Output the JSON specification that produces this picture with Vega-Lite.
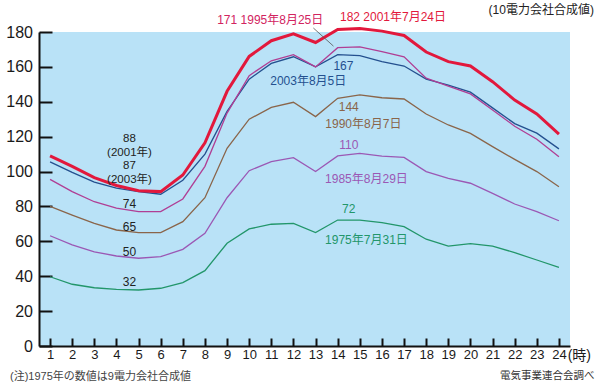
{
  "$schema": "https://vega.github.io/schema/vega-lite/v6.json",
  "autosize": "none",
  "width": 531,
  "height": 314,
  "padding": {"left": 39, "top": 32, "right": 30, "bottom": 42},
  "background": "white",
  "config": {
    "view": {"stroke": null, "fill": "#b9e2f7"},
    "font": "Liberation Sans, Noto Sans CJK JP",
    "axis": {"grid": false, "title": null, "domainColor": "#111", "domainWidth": 2, "tickColor": "#111", "tickWidth": 2, "labelColor": "#1a1a1a", "labelFont": "Liberation Sans"}
  },
  "datasets": {
    "lines": [
      {"s":"2001","h":1,"v":109},{"s":"2001","h":2,"v":103},{"s":"2001","h":3,"v":96.5},{"s":"2001","h":4,"v":92},{"s":"2001","h":5,"v":89},{"s":"2001","h":6,"v":88.5},{"s":"2001","h":7,"v":98},{"s":"2001","h":8,"v":116.5},{"s":"2001","h":9,"v":146},{"s":"2001","h":10,"v":166},{"s":"2001","h":11,"v":175},{"s":"2001","h":12,"v":179},{"s":"2001","h":13,"v":174},{"s":"2001","h":14,"v":181.5},{"s":"2001","h":15,"v":182},{"s":"2001","h":16,"v":180.5},{"s":"2001","h":17,"v":178},{"s":"2001","h":18,"v":168.5},{"s":"2001","h":19,"v":163},{"s":"2001","h":20,"v":160.5},{"s":"2001","h":21,"v":151.5},{"s":"2001","h":22,"v":141},{"s":"2001","h":23,"v":133},{"s":"2001","h":24,"v":121.5},
      {"s":"2003","h":1,"v":105.5},{"s":"2003","h":2,"v":99.5},{"s":"2003","h":3,"v":94},{"s":"2003","h":4,"v":90.5},{"s":"2003","h":5,"v":88.5},{"s":"2003","h":6,"v":87},{"s":"2003","h":7,"v":95},{"s":"2003","h":8,"v":110},{"s":"2003","h":9,"v":134.5},{"s":"2003","h":10,"v":153},{"s":"2003","h":11,"v":162},{"s":"2003","h":12,"v":165.8},{"s":"2003","h":13,"v":160},{"s":"2003","h":14,"v":167},{"s":"2003","h":15,"v":166.4},{"s":"2003","h":16,"v":163},{"s":"2003","h":17,"v":160.5},{"s":"2003","h":18,"v":153},{"s":"2003","h":19,"v":149.5},{"s":"2003","h":20,"v":145.5},{"s":"2003","h":21,"v":136.5},{"s":"2003","h":22,"v":127.5},{"s":"2003","h":23,"v":122},{"s":"2003","h":24,"v":113},
      {"s":"1995","h":1,"v":95.5},{"s":"1995","h":2,"v":88.5},{"s":"1995","h":3,"v":82.7},{"s":"1995","h":4,"v":79},{"s":"1995","h":5,"v":77},{"s":"1995","h":6,"v":77},{"s":"1995","h":7,"v":84.3},{"s":"1995","h":8,"v":103},{"s":"1995","h":9,"v":133.5},{"s":"1995","h":10,"v":155},{"s":"1995","h":11,"v":163.5},{"s":"1995","h":12,"v":167},{"s":"1995","h":13,"v":160},{"s":"1995","h":14,"v":171},{"s":"1995","h":15,"v":171.5},{"s":"1995","h":16,"v":168.7},{"s":"1995","h":17,"v":165.8},{"s":"1995","h":18,"v":153.5},{"s":"1995","h":19,"v":149},{"s":"1995","h":20,"v":144.5},{"s":"1995","h":21,"v":135.3},{"s":"1995","h":22,"v":126},{"s":"1995","h":23,"v":118.5},{"s":"1995","h":24,"v":108.5},
      {"s":"1990","h":1,"v":80},{"s":"1990","h":2,"v":75},{"s":"1990","h":3,"v":70.3},{"s":"1990","h":4,"v":66.5},{"s":"1990","h":5,"v":65},{"s":"1990","h":6,"v":65},{"s":"1990","h":7,"v":71.3},{"s":"1990","h":8,"v":85},{"s":"1990","h":9,"v":113.3},{"s":"1990","h":10,"v":130},{"s":"1990","h":11,"v":136.8},{"s":"1990","h":12,"v":139.7},{"s":"1990","h":13,"v":131.5},{"s":"1990","h":14,"v":142},{"s":"1990","h":15,"v":144},{"s":"1990","h":16,"v":142.3},{"s":"1990","h":17,"v":141.6},{"s":"1990","h":18,"v":133},{"s":"1990","h":19,"v":126.7},{"s":"1990","h":20,"v":121.9},{"s":"1990","h":21,"v":114.3},{"s":"1990","h":22,"v":107},{"s":"1990","h":23,"v":100},{"s":"1990","h":24,"v":91.3},
      {"s":"1985","h":1,"v":63.2},{"s":"1985","h":2,"v":58},{"s":"1985","h":3,"v":54},{"s":"1985","h":4,"v":51.6},{"s":"1985","h":5,"v":50.3},{"s":"1985","h":6,"v":51.2},{"s":"1985","h":7,"v":55.4},{"s":"1985","h":8,"v":64.6},{"s":"1985","h":9,"v":85},{"s":"1985","h":10,"v":100.5},{"s":"1985","h":11,"v":105.7},{"s":"1985","h":12,"v":108},{"s":"1985","h":13,"v":100},{"s":"1985","h":14,"v":109},{"s":"1985","h":15,"v":110.4},{"s":"1985","h":16,"v":108.9},{"s":"1985","h":17,"v":108.1},{"s":"1985","h":18,"v":100},{"s":"1985","h":19,"v":96.1},{"s":"1985","h":20,"v":93.3},{"s":"1985","h":21,"v":87.5},{"s":"1985","h":22,"v":81.4},{"s":"1985","h":23,"v":77},{"s":"1985","h":24,"v":71.8},
      {"s":"1975","h":1,"v":39.7},{"s":"1975","h":2,"v":35.4},{"s":"1975","h":3,"v":33.4},{"s":"1975","h":4,"v":32.5},{"s":"1975","h":5,"v":32.1},{"s":"1975","h":6,"v":33.1},{"s":"1975","h":7,"v":36.3},{"s":"1975","h":8,"v":43.2},{"s":"1975","h":9,"v":58.9},{"s":"1975","h":10,"v":67.1},{"s":"1975","h":11,"v":69.8},{"s":"1975","h":12,"v":70.3},{"s":"1975","h":13,"v":65},{"s":"1975","h":14,"v":72.2},{"s":"1975","h":15,"v":72.2},{"s":"1975","h":16,"v":70.7},{"s":"1975","h":17,"v":68.4},{"s":"1975","h":18,"v":61.2},{"s":"1975","h":19,"v":57.3},{"s":"1975","h":20,"v":58.7},{"s":"1975","h":21,"v":57.3},{"s":"1975","h":22,"v":53.5},{"s":"1975","h":23,"v":49.3},{"s":"1975","h":24,"v":45.1}
    ],
    "labels": [
      {"s":"1995label","h":10.95,"v":186.9,"t":"171 1995年8月25日"},
      {"s":"2001","h":16.5,"v":188.6,"t":"182 2001年7月24日"},
      {"s":"note","h":23.2,"v":192.6,"t":"(10電力会社合成値)"},
      {"s":"2003","h":14.26,"v":160.7,"t":"167"},
      {"s":"2003","h":12.67,"v":151.9,"t":"2003年8月5日"},
      {"s":"1990","h":14.5,"v":136.8,"t":"144"},
      {"s":"1990","h":15.16,"v":127.1,"t":"1990年8月7日"},
      {"s":"1985","h":14.5,"v":115.2,"t":"110"},
      {"s":"1985","h":15.3,"v":95.6,"t":"1985年8月29日"},
      {"s":"1975","h":14.5,"v":78.4,"t":"72"},
      {"s":"1975","h":15.3,"v":60.8,"t":"1975年7月31日"},
      {"s":"note","h":4.59,"v":81.2,"t":"74"},
      {"s":"note","h":4.59,"v":68.4,"t":"65"},
      {"s":"note","h":4.59,"v":54,"t":"50"},
      {"s":"note","h":4.59,"v":36.9,"t":"32"}
    ],
    "minLabels": [
      {"s":"note","h":4.59,"v":118.5,"t":"88"},
      {"s":"note","h":4.59,"v":110.9,"t":"(2001年)"},
      {"s":"note","h":4.59,"v":103.2,"t":"87"},
      {"s":"note","h":4.59,"v":95.4,"t":"(2003年)"}
    ],
    "foot": [
      {"s":"note","h":23.47,"v":-17.2,"t":"電気事業連合会調べ"}
    ],
    "footLeft": [
      {"s":"note","h":-0.81,"v":-17.8,"t":"(注)1975年の数値は9電力会社合成値"}
    ],
    "unit": [
      {"s":"note","h":24.92,"v":-5.6,"t":"(時)"}
    ],
    "leader": [
      {"h":12.9,"v":182.3,"h2":13.81,"v2":171.9}
    ]
  },
  "encoding": {
    "x": {"field": "h", "type": "quantitative", "scale": {"domain": [0.5, 24.5], "nice": false, "zero": false},
          "axis": {"values": [1,2,3,4,5,6,7,8,9,10,11,12,13,14,15,16,17,18,19,20,21,22,23,24], "tickSize": -8, "labelPadding": 10, "labelFontSize": 13, "labelFlush": false}},
    "y": {"field": "v", "type": "quantitative", "scale": {"domain": [0, 180], "nice": false},
          "axis": {"values": [0,20,40,60,80,100,120,140,160,180], "tickSize": -13, "labelPadding": 19.5, "labelFontSize": 16, "labelFlush": false}}
  },
  "layer": [
    {
      "data": {"name": "lines"},
      "transform": [{"filter": "datum.s !== '2001'"}],
      "mark": {"type": "line", "strokeWidth": 1.3, "clip": false},
      "encoding": {
        "detail": {"field": "s"},
        "color": {"field": "s", "type": "nominal", "legend": null,
          "scale": {"domain": ["1975","1985","1990","1995","2001","2003","1995label","note"],
                    "range": ["#22966a","#9b58b4","#8a654a","#b03e94","#e2183c","#24508f","#d2245f","#222222"]}}
      }
    },
    {
      "data": {"name": "lines"},
      "transform": [{"filter": "datum.s === '2001'"}],
      "mark": {"type": "line", "strokeWidth": 3, "clip": false},
      "encoding": {
        "color": {"field": "s", "type": "nominal", "legend": null}
      }
    },
    {
      "data": {"name": "leader"},
      "mark": {"type": "rule", "color": "#555555", "strokeWidth": 0.8},
      "encoding": {
        "x2": {"field": "h2"},
        "y2": {"field": "v2"}
      }
    },
    {
      "data": {"name": "labels"},
      "mark": {"type": "text", "fontSize": 12, "align": "center", "baseline": "middle"},
      "encoding": {
        "text": {"field": "t"},
        "color": {"field": "s", "type": "nominal", "legend": null}
      }
    },
    {
      "data": {"name": "minLabels"},
      "mark": {"type": "text", "fontSize": 11.5, "align": "center", "baseline": "middle"},
      "encoding": {
        "text": {"field": "t"},
        "color": {"field": "s", "type": "nominal", "legend": null}
      }
    },
    {
      "data": {"name": "foot"},
      "mark": {"type": "text", "fontSize": 10.5, "align": "center", "baseline": "middle", "color": "#333333"},
      "encoding": {"text": {"field": "t"}}
    },
    {
      "data": {"name": "footLeft"},
      "mark": {"type": "text", "fontSize": 11, "align": "left", "baseline": "middle", "color": "#444444"},
      "encoding": {"text": {"field": "t"}}
    },
    {
      "data": {"name": "unit"},
      "mark": {"type": "text", "fontSize": 14, "align": "center", "baseline": "middle", "color": "#1a1a1a"},
      "encoding": {"text": {"field": "t"}}
    }
  ]
}
